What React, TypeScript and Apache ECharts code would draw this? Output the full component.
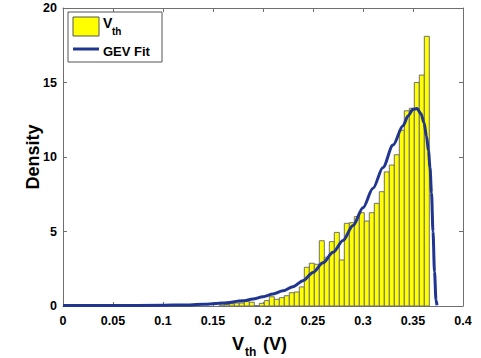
import React, { useEffect, useRef } from "react";
import * as echarts from "echarts";

// Histogram of Vth (density), bin left edges start at BIN_START, width BIN_WIDTH
const BIN_START = 0.1563;
const BIN_WIDTH = 0.005;
const BIN_HEIGHTS = [
  0.07, 0.1, 0.15, 0.2, 0.2, 0.3, 0.25, 0.03, 0.18, 0.36,
  0.62, 0.45, 0.56, 0.69, 0.89, 0.94, 1.28, 2.6, 2.87, 2.8,
  4.38, 3.27, 4.32, 4.94, 3.09, 5.55, 5.59, 6.0, 6.26, 5.7,
  6.26, 6.89, 7.67, 9.0, 9.46, 10.15, 11.8, 13.1, 13.27, 15.0,
  15.5, 18.1,
];

// GEV fit curve
const GEV_X = [
  0, 0.05, 0.1, 0.12, 0.14, 0.16, 0.18, 0.19, 0.2, 0.21, 0.22, 0.23, 0.24,
  0.25, 0.26, 0.27, 0.28, 0.29, 0.3, 0.31, 0.32, 0.33, 0.34, 0.345, 0.35,
  0.354, 0.358, 0.361, 0.3635, 0.3655, 0.367, 0.3685, 0.37, 0.3715, 0.373, 0.374,
];
const GEV_Y = [
  0.03, 0.03, 0.05, 0.07, 0.11, 0.2, 0.35, 0.47, 0.62, 0.8, 1.02, 1.3, 1.7,
  2.25, 2.9, 3.6, 4.4, 5.4, 6.6, 7.9, 9.3, 10.8, 12.1, 12.75, 13.2,
  13.25, 12.9, 12.3, 11.4, 10.4, 9.3, 7.6, 5.0, 2.3, 0.4, 0.05,
];

const X_MIN = 0;
const X_MAX = 0.4;
const X_INTERVAL = 0.05;
const Y_MIN = 0;
const Y_MAX = 20;
const Y_INTERVAL = 5;

const FONT = '"Liberation Sans", Arial, Helvetica, sans-serif';
const AXIS_COLOR = "#6f6f6f";
const BAR_FILL = "#ffff00";
const BAR_STROKE = "#707070";
const CURVE_COLOR = "#1f3590";

export default function App() {
  const ref = useRef<HTMLDivElement>(null);

  useEffect(() => {
    document.body.style.margin = "0";
    const chart = echarts.init(ref.current!, null, { renderer: "svg" });

    const histData = BIN_HEIGHTS.map((h, i) => [
      BIN_START + i * BIN_WIDTH,
      BIN_START + (i + 1) * BIN_WIDTH,
      h,
    ]);
    const curveData = GEV_X.map((x, i) => [x, GEV_Y[i]]);

    const tickLabel = {
      color: "#000",
      fontFamily: FONT,
      fontWeight: "bold" as const,
      fontSize: 12.5,
    };

    const option: any = {
      animation: false,
      backgroundColor: "#fff",
      grid: {
        left: 63,
        top: 8,
        width: 400,
        height: 298,
        containLabel: false,
        outerBoundsMode: "none",
        show: false,
      },
      xAxis: [
        {
          type: "value",
          min: X_MIN,
          max: X_MAX,
          interval: X_INTERVAL,
          position: "bottom",
          axisLine: { show: true, onZero: false, lineStyle: { color: AXIS_COLOR, width: 1 } },
          axisTick: { show: true, inside: true, length: 4, lineStyle: { color: AXIS_COLOR } },
          axisLabel: {
            ...tickLabel,
            margin: 8,
            formatter: (v: number) => String(+v.toFixed(2)),
          },
          splitLine: { show: false },
        },
        {
          type: "value",
          min: X_MIN,
          max: X_MAX,
          interval: X_INTERVAL,
          position: "top",
          axisLine: { show: true, onZero: false, lineStyle: { color: AXIS_COLOR, width: 1 } },
          axisTick: { show: true, inside: true, length: 4, lineStyle: { color: AXIS_COLOR } },
          axisLabel: { show: false },
          splitLine: { show: false },
        },
      ],
      yAxis: [
        {
          type: "value",
          min: Y_MIN,
          max: Y_MAX,
          interval: Y_INTERVAL,
          position: "left",
          axisLine: { show: true, onZero: false, lineStyle: { color: AXIS_COLOR, width: 1 } },
          axisTick: { show: true, inside: true, length: 4, lineStyle: { color: AXIS_COLOR } },
          axisLabel: { ...tickLabel, margin: 6 },
          splitLine: { show: false },
        },
        {
          type: "value",
          min: Y_MIN,
          max: Y_MAX,
          interval: Y_INTERVAL,
          position: "right",
          axisLine: { show: true, onZero: false, lineStyle: { color: AXIS_COLOR, width: 1 } },
          axisTick: { show: true, inside: true, length: 4, lineStyle: { color: AXIS_COLOR } },
          axisLabel: { show: false },
          splitLine: { show: false },
        },
      ],
      series: [
        {
          type: "custom",
          xAxisIndex: 0,
          yAxisIndex: 0,
          data: histData,
          encode: { x: [0, 1], y: 2 },
          z: 2,
          renderItem: (_params: any, api: any) => {
            const x0 = api.value(0);
            const x1 = api.value(1);
            const h = api.value(2);
            const p0 = api.coord([x0, h]);
            const p1 = api.coord([x1, 0]);
            return {
              type: "rect",
              shape: {
                x: p0[0],
                y: p0[1],
                width: p1[0] - p0[0],
                height: p1[1] - p0[1],
              },
              style: { fill: BAR_FILL, stroke: BAR_STROKE, lineWidth: 1 },
            };
          },
        },
        {
          type: "line",
          xAxisIndex: 0,
          yAxisIndex: 0,
          data: curveData,
          showSymbol: false,
          smooth: 0.3,
          smoothMonotone: "x",
          z: 3,
          lineStyle: { color: CURVE_COLOR, width: 3 },
        },
      ],
      graphic: [
        {
          type: "rect",
          shape: { x: 68, y: 12, width: 94, height: 50 },
          style: { fill: "#fff", stroke: "#555", lineWidth: 1 },
          z: 100,
        },
        {
          type: "rect",
          shape: { x: 73, y: 17, width: 26, height: 19 },
          style: { fill: BAR_FILL, stroke: "#555", lineWidth: 1 },
          z: 101,
        },
        {
          type: "text",
          x: 103,
          y: 23,
          style: {
            text: "V",
            font: `bold 14px ${FONT}`,
            fill: "#000",
            verticalAlign: "middle",
          },
          z: 101,
        },
        {
          type: "text",
          x: 112,
          y: 31.5,
          style: {
            text: "th",
            font: `bold 10px ${FONT}`,
            fill: "#000",
            verticalAlign: "middle",
          },
          z: 101,
        },
        {
          type: "line",
          shape: { x1: 73, y1: 49, x2: 99, y2: 49 },
          style: { stroke: CURVE_COLOR, lineWidth: 3 },
          z: 101,
        },
        {
          type: "text",
          x: 103,
          y: 51,
          style: {
            text: "GEV Fit",
            font: `bold 13px ${FONT}`,
            fill: "#000",
            verticalAlign: "middle",
          },
          z: 101,
        },
        {
          type: "text",
          x: 33,
          y: 157,
          rotation: Math.PI / 2,
          style: {
            text: "Density",
            font: `bold 18px ${FONT}`,
            fill: "#000",
            align: "center",
            verticalAlign: "middle",
          },
          z: 101,
        },
        {
          type: "text",
          x: 232,
          y: 344,
          style: {
            text: "V",
            font: `bold 18px ${FONT}`,
            fill: "#000",
            verticalAlign: "middle",
          },
          z: 101,
        },
        {
          type: "text",
          x: 245,
          y: 346,
          style: {
            text: "th",
            font: `bold 12px ${FONT}`,
            fill: "#000",
            verticalAlign: "top",
          },
          z: 101,
        },
        {
          type: "text",
          x: 263,
          y: 344,
          style: {
            text: "(V)",
            font: `bold 18px ${FONT}`,
            fill: "#000",
            verticalAlign: "middle",
          },
          z: 101,
        },
      ],
    };

    chart.setOption(option);
    return () => chart.dispose();
  }, []);

  return (
    <div
      ref={ref}
      style={{ position: "absolute", left: 0, top: 0, width: 481, height: 358 }}
    />
  );
}
